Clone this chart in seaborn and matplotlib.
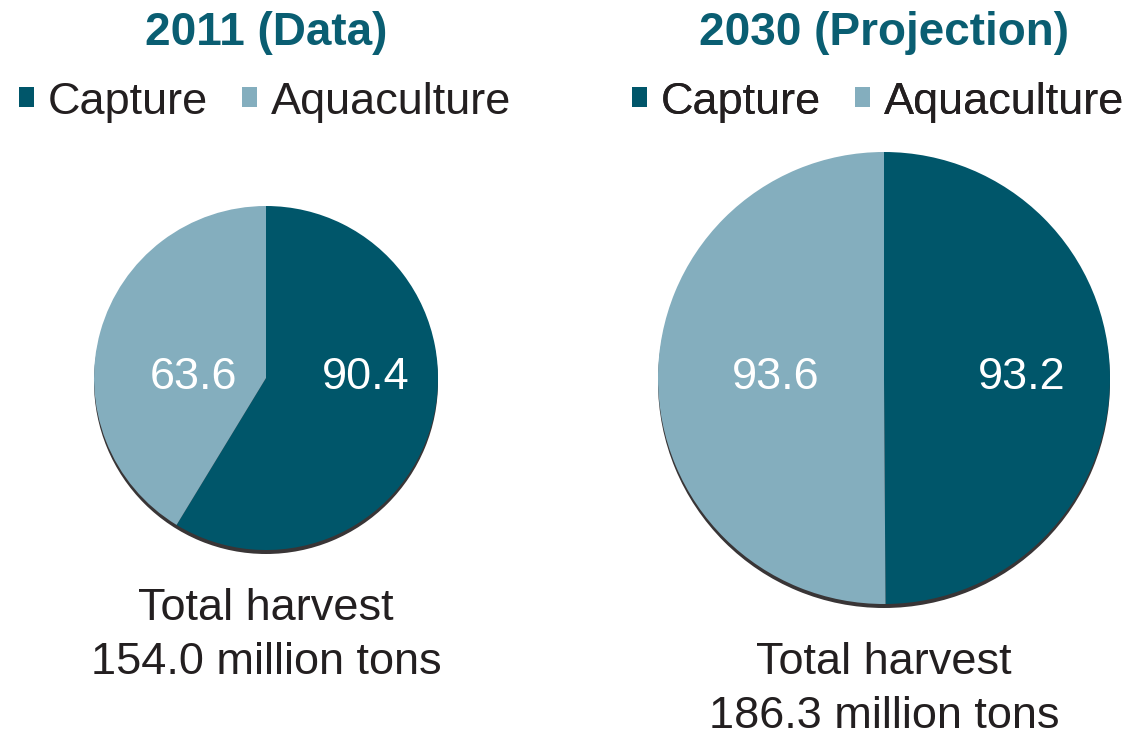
import matplotlib
matplotlib.use("Agg")
import matplotlib.pyplot as plt
import seaborn as sns
from matplotlib.patches import Patch

sns.set_theme(style="white")
plt.rcParams['font.family'] = ['Liberation Sans', 'DejaVu Sans']

categories = ["Capture", "Aquaculture"]
titles = ["2011 (Data)", "2030 (Projection)"]
values_2011 = [90.4, 63.6]
values_2030 = [93.2, 93.6]
totals = ["154.0", "186.3"]

colors = ["#00566A", "#84AEBE"]
title_color = "#0A5E72"
shadow_color = "#231F20"

W, H = 1131, 737
fig = plt.figure(figsize=(W / 100, H / 100), dpi=100)
ax = fig.add_axes([0, 0, 1, 1])
ax.set_xlim(0, W)
ax.set_ylim(H, 0)
ax.set_aspect("equal")
ax.axis("off")

# layout (pixel coords): center x, center y, radius, label offsets, total text y
layouts = [
    dict(cx=266, cy=378, r=172, lx=(0.58, -0.42), legend_x=265, total_y=(608, 662)),
    dict(cx=884, cy=378, r=226, lx=(0.61, -0.48), legend_x=878, total_y=(662, 716)),
]
all_values = [values_2011, values_2030]

for i, (lay, vals) in enumerate(zip(layouts, all_values)):
    cx, cy, r = lay["cx"], lay["cy"], lay["r"]
    # shadow (y axis inverted: +y is downward on screen)
    ax.pie([1], colors=[shadow_color], center=(cx, cy + 4), radius=r,
           wedgeprops=dict(linewidth=0, alpha=0.9), frame=True)
    # y inverted: startangle -90 points up on screen, counterclock in data = clockwise on screen
    ax.pie(vals, colors=colors, center=(cx, cy), radius=r, startangle=-90,
           counterclock=True, wedgeprops=dict(linewidth=0), frame=True)
    for v, f in zip(vals, lay["lx"]):
        ax.text(cx + f * r, cy - 1, f"{v:.1f}", ha="center", va="center",
                fontsize=32.5, color="white")
    ax.text(lay["cx"], 33, titles[i], ha="center", va="center", fontsize=33,
            fontweight="bold", color=title_color)
    handles = [Patch(facecolor=c, edgecolor="none") for c in colors]
    leg = ax.legend(handles, categories, loc="center", ncol=2, frameon=False,
                    bbox_to_anchor=(lay["legend_x"], 102), bbox_transform=ax.transData,
                    fontsize=32.5, handlelength=0.34, handleheight=0.3,
                    handletextpad=0.3, columnspacing=0.75, borderpad=0,
                    borderaxespad=0)
    for t in leg.get_texts():
        t.set_color("#231F20")
    ax.add_artist(leg)
    ax.text(lay["cx"], lay["total_y"][0], "Total harvest", ha="center", va="center",
            fontsize=32.5, color="#231F20")
    ax.text(lay["cx"], lay["total_y"][1], f"{totals[i]} million tons", ha="center",
            va="center", fontsize=32.5, color="#231F20")

ax.set_xlim(0, W)
ax.set_ylim(H, 0)
ax.axis("off")
fig.savefig("out.png", dpi=100)
